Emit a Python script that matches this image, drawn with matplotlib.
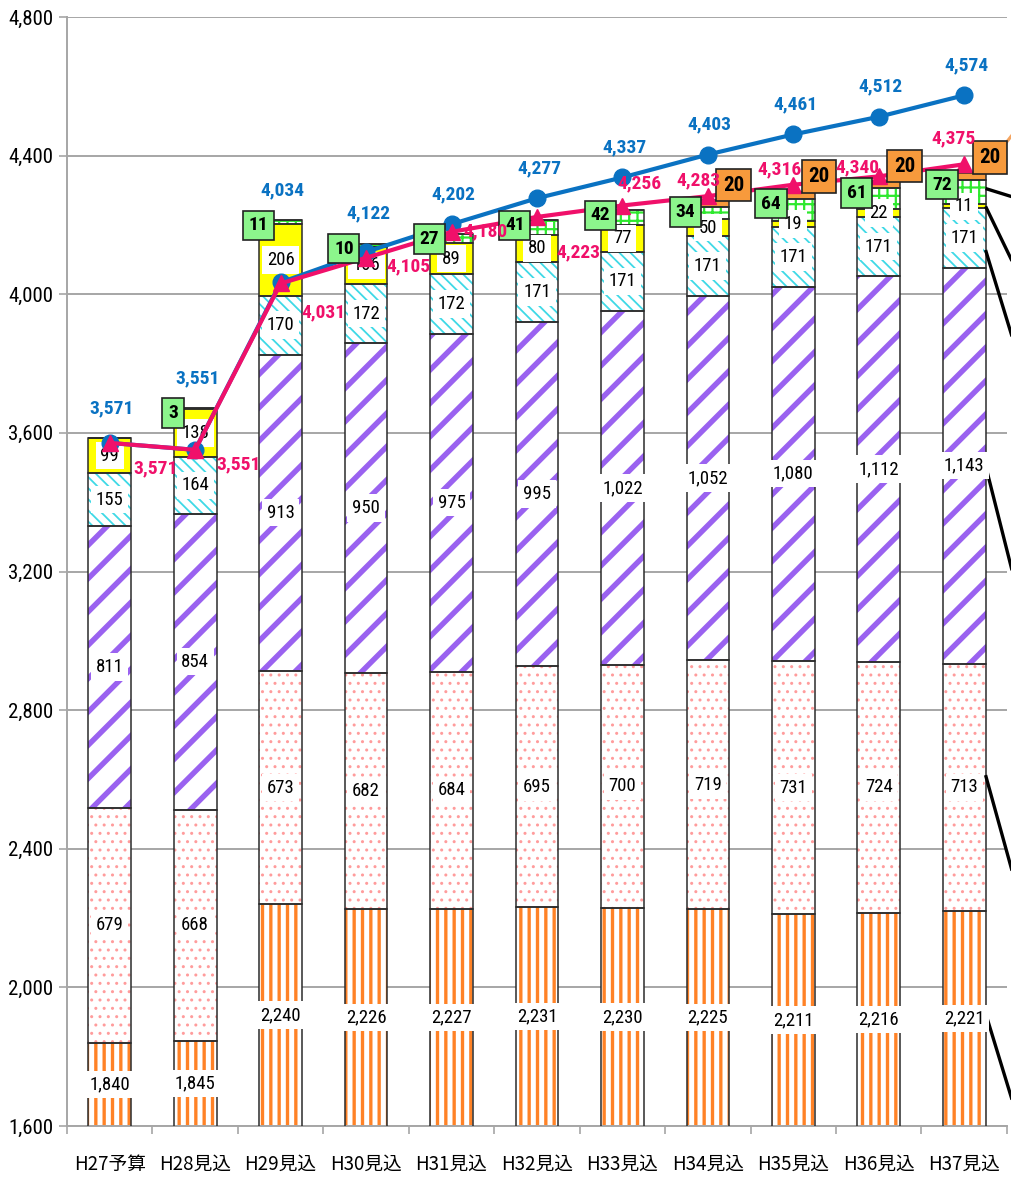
import matplotlib
matplotlib.use("Agg")
import matplotlib.pyplot as plt
import numpy as np
from matplotlib import font_manager as fm
from matplotlib.ticker import FuncFormatter, MultipleLocator
from matplotlib.transforms import offset_copy

# ---- data -----------------------------------------------------------------
categories = ['H27予算', 'H28見込', 'H29見込', 'H30見込', 'H31見込', 'H32見込',
              'H33見込', 'H34見込', 'H35見込', 'H36見込', 'H37見込']
seg_orange = [1840, 1845, 2240, 2226, 2227, 2231, 2230, 2225, 2211, 2216, 2221]
seg_pink = [679, 668, 673, 682, 684, 695, 700, 719, 731, 724, 713]
seg_purple = [811, 854, 913, 950, 975, 995, 1022, 1052, 1080, 1112, 1143]
seg_cyan = [155, 164, 170, 172, 172, 171, 171, 171, 171, 171, 171]
seg_yellow = [99, 138, 206, 106, 89, 80, 77, 50, 19, 22, 11]
seg_green = [0, 3, 11, 10, 27, 41, 42, 34, 64, 61, 72]
seg_extra = [0, 0, 0, 0, 0, 0, 0, 20, 20, 20, 20]
line_blue = [3571, 3551, 4034, 4122, 4202, 4277, 4337, 4403, 4461, 4512, 4574]
line_pink = [3571, 3551, 4031, 4105, 4180, 4223, 4256, 4283, 4316, 4340, 4375]

# ---- fonts ----------------------------------------------------------------
JP_FONT = ['Noto Sans CJK JP', 'DejaVu Sans']


def pick_condensed():
    """Return (family, stretch) of a narrow sans face if one is installed."""
    narrow = ('condensed', 'semi-condensed', 'extra-condensed', 'ultra-condensed')
    preferred = ['Liberation Sans Narrow', 'Roboto Condensed', 'Open Sans Condensed',
                 'Noto Sans', 'DejaVu Sans Condensed', 'Open Sans', 'DejaVu Sans']
    entries = fm.fontManager.ttflist
    for fam in preferred:
        for e in entries:
            if e.name != fam:
                continue
            if 'Narrow' in fam or 'Condensed' in fam:
                return fam, 'normal'
            if str(e.stretch) in narrow:
                return fam, e.stretch
    for e in entries:
        if ('Narrow' in e.name or 'Condensed' in e.name) and 'Mono' not in e.name:
            return e.name, 'normal'
    return None, None


cond_family, cond_stretch = pick_condensed()
if cond_family:
    NUM_FAMILY = [cond_family, 'Liberation Sans', 'DejaVu Sans']
    NUM_SCALE = 1.0
else:
    NUM_FAMILY = ['Liberation Sans', 'DejaVu Sans']
    cond_stretch = 'normal'
    NUM_SCALE = 0.88
plt.rcParams['font.family'] = NUM_FAMILY
plt.rcParams['font.stretch'] = cond_stretch


def num_font(size, bold=False):
    return fm.FontProperties(family=NUM_FAMILY, stretch=cond_stretch,
                             size=size * NUM_SCALE,
                             weight='bold' if bold else 'normal')


YMIN, YMAX = 1600, 4800

fig = plt.figure(figsize=(10.12, 11.78), dpi=100)
ax = fig.add_axes([0.0662, 0.0441, 0.9288, 0.9415])

x = np.arange(len(categories))
width = 0.5

# series style: (values, facecolor, hatch colour, hatch, hatch linewidth)
styles = [
    (seg_orange, 'white', '#FF8226', '||', 2.4),
    (seg_pink, 'white', '#FF9C9C', '..', 1.0),
    (seg_purple, 'white', '#9A62F0', '/', 3.9),
    (seg_cyan, 'white', '#3FD9E6', '\\\\\\', 1.3),
    (seg_yellow, '#FFFF00', '#FFFF00', None, 1.0),
    (seg_green, 'white', '#2EE82E', '++', 1.6),
    (seg_extra, '#F79A3C', '#F79A3C', None, 1.0),
]

bottom = np.zeros(len(categories))
bottoms = []
for vals, fc, hc, hatch, hlw in styles:
    vals = np.asarray(vals, dtype=float)
    with plt.rc_context({'hatch.linewidth': hlw}):
        bars = ax.bar(x, vals, width, bottom=bottom, color=fc, edgecolor=hc,
                      hatch=hatch, linewidth=0, zorder=2)
    for b in bars:
        if hasattr(b, 'set_hatch_linewidth'):
            b.set_hatch_linewidth(hlw)
    ax.bar(x, vals, width, bottom=bottom, fill=False, edgecolor='#2b2b2b',
           linewidth=1.1, zorder=3)
    bottoms.append(bottom.copy())
    bottom = bottom + vals
bar_top = bottom


def visible_mid(b, v):
    """Middle of the part of a segment that lies inside the y range."""
    lo = max(b, YMIN)
    return (lo + b + v) / 2


# ---- segment labels (white boxes) ------------------------------------------
label_box = dict(boxstyle='square,pad=0.25', fc='white', ec='none')
for (vals, *_), bot in zip(styles[:5], bottoms[:5]):
    for xi, v, b in zip(x, vals, bot):
        if v <= 0:
            continue
        ax.text(xi, visible_mid(b, v), f'{v:,}', ha='center', va='center',
                fontproperties=num_font(13.5), color='black', bbox=label_box, zorder=5)

# green segment labels: boxed on the left edge of the bar top
tr_down = offset_copy(ax.transData, fig=fig, x=0, y=-5, units='dots')
green_top = bottoms[5] + np.asarray(seg_green)
for xi, v, t in zip(x, seg_green, green_top):
    if v <= 0:
        continue
    ax.text(xi - width / 2 - 0.01, t, f'{v}', ha='center', va='center',
            fontproperties=num_font(14, True), color='black', zorder=10,
            transform=tr_down,
            bbox=dict(boxstyle='square,pad=0.3', fc='#8CF58C', ec='#222222', lw=1.2))

# extra segment labels: orange boxes on the right edge of the bar top
tr_up = offset_copy(ax.transData, fig=fig, x=0, y=15, units='dots')
for xi, v, t in zip(x, seg_extra, bar_top):
    if v <= 0:
        continue
    ax.text(xi + width / 2 + 0.05, t, f'{v}', ha='center', va='center',
            fontproperties=num_font(15, True), color='black', zorder=10,
            transform=tr_up,
            bbox=dict(boxstyle='square,pad=0.32', fc='#F79A3C', ec='#222222', lw=1.2))

# ---- lines --------------------------------------------------------------------
BLUE = '#0A72C2'
PINK = '#F0106A'
ax.plot(x, line_blue, color=BLUE, lw=3, marker='o', ms=12, zorder=7)
ax.plot(x, line_pink, color=PINK, lw=3, marker='^', ms=12, zorder=8)

for xi, v, t in zip(x, line_blue, bar_top):
    ax.annotate(f'{v:,}', (xi, max(v, t)), xytext=(2, 30), textcoords='offset pixels',
                ha='center', va='center', fontproperties=num_font(14, True),
                color=BLUE, zorder=11)

pink_offsets = [(46, -25), (43, -15), (43, -29), (42, -9), (34, 0), (41, -35),
                (17, 22), (-9, 16), (-14, 15), (-21, 9), (-11, 26)]
for xi, v, off in zip(x, line_pink, pink_offsets):
    ax.annotate(f'{v:,}', (xi, v), xytext=off, textcoords='offset pixels',
                ha='center', va='center', fontproperties=num_font(14, True),
                color=PINK, zorder=11)

# ---- leader lines running out to the right-hand legend ---------------------------
last = len(categories) - 1
xr = x[last] + width / 2
leader_lines = [
    (green_top[last] - seg_green[last] / 2 + 10, 26),
    (bottoms[4][last] + seg_yellow[last] / 2, 173),
    (bottoms[3][last] + seg_cyan[last] / 2 - 35, 274),
    (visible_mid(bottoms[2][last], seg_purple[last]), 332),
    (visible_mid(bottoms[1][last], seg_pink[last]) + 35, 303),
    (visible_mid(bottoms[0][last], seg_orange[last]) + 15, 274),
]
for y0, drop in leader_lines:
    ax.plot([xr, xr + 0.34], [y0, y0 - drop], color='black', lw=2.4,
            clip_on=False, zorder=4, solid_capstyle='butt')
ax.plot([xr + 0.17, xr + 0.36], [line_pink[last] + 40, line_pink[last] + 100],
        color='#F4A460', lw=2.2, clip_on=False, zorder=4)

# ---- axes -------------------------------------------------------------------------
ax.set_xlim(-0.5, len(categories) - 0.5)
ax.set_ylim(YMIN, YMAX)
ax.yaxis.set_major_locator(MultipleLocator(400))
ax.yaxis.set_major_formatter(FuncFormatter(lambda v, p: f'{int(v):,}'))
ax.grid(axis='y', color='#A6A6A6', lw=1.4, zorder=0)
ax.set_axisbelow(True)

ax.set_xticks(x)
ax.set_xticklabels(categories, fontfamily=JP_FONT, fontsize=13.5)
ax.set_xticks(np.arange(-0.5, len(categories), 1), minor=True)
ax.tick_params(axis='x', which='major', length=0, pad=20)
ax.tick_params(axis='x', which='minor', length=6, color='#A6A6A6', width=1.2)
ax.tick_params(axis='y', length=6, color='#A6A6A6', width=1.2, pad=4)
for lbl in ax.get_yticklabels():
    lbl.set_fontproperties(num_font(15))

for side in ('top', 'right'):
    ax.spines[side].set_visible(False)
for side in ('left', 'bottom'):
    ax.spines[side].set_color('#A6A6A6')
    ax.spines[side].set_linewidth(1.4)

fig.savefig('out.png', dpi=100)
